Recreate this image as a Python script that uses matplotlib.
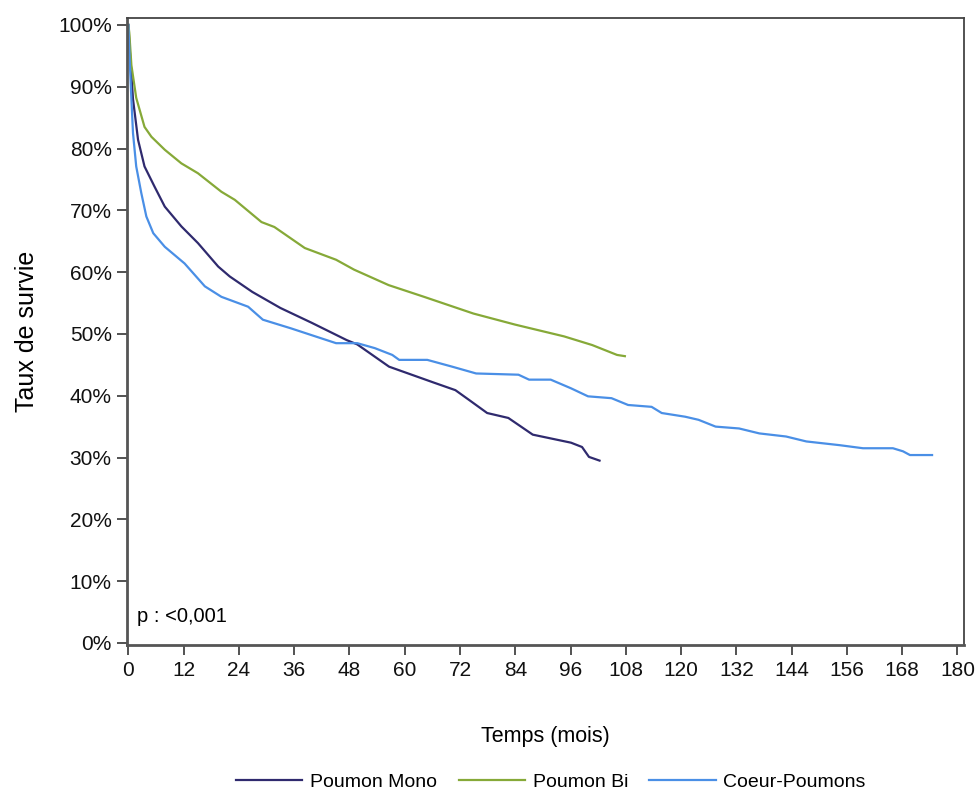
import matplotlib
matplotlib.use("Agg")
import matplotlib.pyplot as plt

plt.rcParams["font.family"] = ["Liberation Sans", "DejaVu Sans"]

# Kaplan-Meier style survival curves
mono_t = [0, 0.3, 1.0, 2.1, 3.5, 5.7, 7.9, 11.5, 15.1, 19.5, 22.0, 26.9, 33.0, 39.8,
          47.4, 49.7, 56.6, 66.4, 71.0, 74.0, 77.9, 82.5, 87.8, 96.1, 98.5, 100.0, 102.3]
mono_v = [100, 96, 88.0, 81.4, 77.1, 73.8, 70.6, 67.4, 64.7, 60.9, 59.3, 56.8, 54.2, 51.8,
          49.0, 48.3, 44.7, 42.1, 40.9, 39.3, 37.2, 36.4, 33.7, 32.4, 31.7, 30.1, 29.5]

bi_t = [0, 0.2, 0.65, 1.7, 3.5, 5.0, 7.9, 11.5, 15.1, 20.2, 23.1, 28.9, 31.7, 38.3,
        45.1, 49.0, 56.5, 64.2, 74.9, 84.0, 94.6, 100.7, 106.1, 107.8]
bi_v = [100, 98.7, 93.5, 88.2, 83.5, 81.9, 79.8, 77.6, 76.0, 73.0, 71.7, 68.1, 67.3, 63.9,
        62.0, 60.4, 57.9, 56.0, 53.3, 51.5, 49.6, 48.2, 46.6, 46.4]

cp_t = [0, 0.3, 0.65, 1.0, 1.7, 2.8, 3.9, 5.4, 7.9, 12.2, 16.6, 20.2, 26.0, 29.2, 35.3,
        40.6, 45.1, 49.7, 53.5, 57.3, 58.8, 64.9, 70.3, 75.5, 84.7, 87.0, 91.7, 96.1,
        99.8, 104.9, 108.5, 113.6, 115.8, 120.9, 123.8, 127.5, 132.6, 137.0, 142.8,
        147.2, 154.4, 159.5, 166.0, 168.2, 169.7, 174.5]
cp_v = [100, 94.0, 88.0, 82.5, 77.1, 72.8, 69.0, 66.3, 64.1, 61.4, 57.7, 56.0, 54.4, 52.3,
        50.9, 49.6, 48.5, 48.5, 47.7, 46.6, 45.8, 45.8, 44.7, 43.6, 43.4, 42.6, 42.6, 41.2,
        39.9, 39.6, 38.5, 38.2, 37.2, 36.6, 36.1, 35.0, 34.7, 33.9, 33.4, 32.6, 32.0,
        31.5, 31.5, 31.0, 30.4, 30.4]

series = [
    ("Poumon Mono", mono_t, mono_v, "#2f2a6e"),
    ("Poumon Bi", bi_t, bi_v, "#86a938"),
    ("Coeur-Poumons", cp_t, cp_v, "#4a8fe6"),
]
x_ticks = list(range(0, 181, 12))
y_ticks = list(range(0, 101, 10))

fig = plt.figure(figsize=(9.77, 7.96), dpi=100)
ax = fig.add_axes([0.130, 0.190, 0.857, 0.788])

for label, t, v, colour in series:
    ax.plot(t, v, color=colour, linewidth=1.6, label=label)

ax.set_xlim(-0.3, 181.5)
ax.set_ylim(-0.3, 101.2)
ax.set_xticks(x_ticks)
ax.set_yticks(y_ticks)
ax.set_yticklabels([f"{y}%" for y in y_ticks])
ax.tick_params(axis="both", direction="out", length=7, width=1.3, color="#444444",
               labelsize=15, labelcolor="#111111", pad=4)
ax.tick_params(axis="x", pad=5)

for side in ("left", "bottom"):
    ax.spines[side].set_linewidth(2.0)
    ax.spines[side].set_color("#555555")
for side in ("top", "right"):
    ax.spines[side].set_linewidth(1.3)
    ax.spines[side].set_color("#444444")

ax.set_xlabel("Temps (mois)", fontsize=15.5, labelpad=33)
ax.set_ylabel("Taux de survie", fontsize=18, labelpad=14)

ax.text(0.012, 0.03, "p : <0,001", transform=ax.transAxes, fontsize=14.5,
        ha="left", va="bottom")

fig.legend(loc="center", bbox_to_anchor=(0.564, 0.0176), ncol=3, frameon=False,
           fontsize=14, handlelength=3.4, columnspacing=1.1, handletextpad=0.4)

fig.savefig("out.png", dpi=100)
